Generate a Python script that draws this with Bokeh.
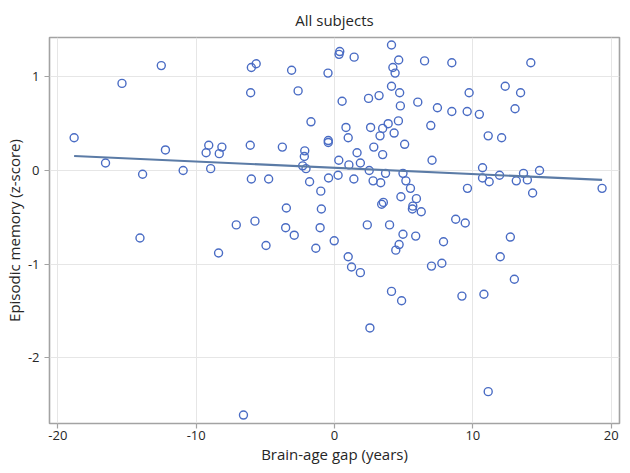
from bokeh.plotting import figure
from bokeh.models import Range1d, FixedTicker, ColumnDataSource
from bokeh.embed import file_html
from bokeh.resources import INLINE

# Data
brain_age_gap = [
    -18.82, -16.55, -15.36, -14.06, -13.87, -12.52, -12.22, -10.94, -9.09, -9.28,
    -8.95, -8.38, -8.33, -8.14, -7.10, -6.58, -6.09, -6.06, -6.01, -6.01,
    -5.75, -5.66, -4.95, -4.76, -3.77, -3.53, -3.48, -3.10, -2.91, -2.63,
    -2.30, -2.18, -2.15, -2.06, -1.80, -1.70, -1.35, -1.04, -0.99, -0.95,
    -0.47, -0.45, -0.45, -0.43, -0.02, 0.26, 0.31, 0.33, 0.38, 0.55,
    0.83, 0.99, 0.99, 1.04, 1.23, 1.40, 1.42, 1.63, 1.87, 1.87,
    2.37, 2.46, 2.51, 2.56, 2.61, 2.79, 2.84, 3.22, 3.29, 3.34,
    3.41, 3.53, 3.48, 3.48, 3.69, 3.88, 3.98, 4.12, 4.12, 4.12,
    4.22, 4.31, 4.38, 4.43, 4.62, 4.64, 4.67, 4.71, 4.76, 4.80,
    4.85, 4.95, 4.95, 5.07, 5.16, 5.49, 5.63, 5.66, 5.87, 5.92,
    6.02, 6.27, 6.51, 6.96, 7.01, 7.05, 7.44, 7.76, 7.88, 8.48,
    8.48, 8.76, 9.21, 9.45, 9.59, 9.61, 9.73, 10.47, 10.70, 10.70,
    10.80, 11.11, 11.11, 11.18, 11.93, 11.98, 12.08, 12.34, 12.71, 13.00,
    13.05, 13.14, 13.45, 13.66, 13.94, 14.19, 14.32, 14.82, 19.34,
]
episodic_memory = [
    0.35, 0.08, 0.93, -0.72, -0.04, 1.12, 0.22, 0.00, 0.27, 0.19,
    0.02, -0.88, 0.18, 0.25, -0.58, -2.61, 0.27, 0.83, 1.10, -0.09,
    -0.54, 1.14, -0.80, -0.09, 0.25, -0.61, -0.40, 1.07, -0.69, 0.85,
    0.05, 0.15, 0.21, 0.02, -0.12, 0.52, -0.83, -0.61, -0.22, -0.41,
    1.04, 0.32, 0.30, -0.08, -0.75, -0.05, 0.11, 1.24, 1.27, 0.74,
    0.46, 0.35, -0.92, 0.06, -1.03, -0.09, 1.21, 0.19, 0.08, -1.09,
    -0.58, 0.77, 0.00, -1.68, 0.46, -0.11, 0.25, 0.80, 0.37, -0.13,
    -0.36, -0.34, 0.45, 0.17, -0.03, 0.50, -0.58, 1.34, 0.90, -1.29,
    1.10, 0.40, 1.04, -0.85, 0.53, 1.18, -0.79, 0.83, 0.69, -0.28,
    -1.39, -0.03, -0.68, 0.28, -0.11, -0.19, -0.41, -0.38, -0.70, -0.30,
    0.73, -0.44, 1.17, 0.48, -1.02, 0.11, 0.67, -0.99, -0.76, 1.15,
    0.63, -0.52, -1.34, -0.56, 0.63, -0.19, 0.83, 0.60, 0.03, -0.08,
    -1.32, 0.37, -2.36, -0.12, -0.05, -0.92, 0.35, 0.90, -0.71, -1.16,
    0.66, -0.11, 0.83, -0.03, -0.10, 1.15, -0.24, 0.00, -0.19,
]
fit_x = [-18.82, 19.34]
fit_y = [0.155, -0.10]
x_ticks = [-20, -10, 0, 10, 20]
x_tick_labels = ["-20", "-10", "0", "10", "20"]
y_ticks = [-2, -1, 0, 1]
y_tick_labels = ["-2", "-1", "0", "1"]

FONT = "Open Sans"
TEXT = "#262626"
FRAME = "#a3a3a3"

p = figure(
    frame_width=570, frame_height=386,
    output_backend="svg", toolbar_location=None,
    x_range=Range1d(-20.6, 20.6), y_range=Range1d(-2.70, 1.42),
    title="All subjects",
    min_border_left=0, min_border_right=2, min_border_top=0, min_border_bottom=0,
)

p.title.align = "center"
p.title.text_font = FONT
p.title.text_font_size = "15px"
p.title.text_font_style = "normal"
p.title.text_color = TEXT
p.title.standoff = 15

src = ColumnDataSource(dict(x=brain_age_gap, y=episodic_memory))
p.scatter("x", "y", source=src, marker="circle", size=8,
          fill_color=None, line_color="#4a6cc4", line_width=1.4)
p.line(fit_x, fit_y, line_color="#5b7ba6", line_width=2.2)

p.xaxis.ticker = FixedTicker(ticks=x_ticks)
p.yaxis.ticker = FixedTicker(ticks=y_ticks)
p.xaxis.major_label_overrides = dict(zip(x_ticks, x_tick_labels))
p.yaxis.major_label_overrides = dict(zip(y_ticks, y_tick_labels))
p.xaxis.axis_label = "Brain-age gap (years)"
p.yaxis.axis_label = "Episodic memory (z-score)"

for ax in (p.xaxis[0], p.yaxis[0]):
    ax.axis_label_text_font = FONT
    ax.axis_label_text_font_size = "15px"
    ax.axis_label_text_font_style = "normal"
    ax.axis_label_text_color = TEXT
    ax.major_label_text_font = FONT
    ax.major_label_text_font_size = "13px"
    ax.major_label_text_color = TEXT
    ax.axis_line_color = None
    ax.major_tick_line_color = FRAME
    ax.major_tick_line_width = 1.2
    ax.major_tick_out = 5
    ax.major_tick_in = 0
    ax.minor_tick_line_color = None

p.xaxis.major_label_standoff = 2
p.xaxis.axis_label_standoff = 1
p.yaxis.major_label_standoff = 5
p.yaxis.axis_label_standoff = 1

p.xgrid.grid_line_color = "#e6e6e6"
p.ygrid.grid_line_color = "#e6e6e6"
p.xgrid.grid_line_width = 1
p.ygrid.grid_line_width = 1

p.outline_line_color = FRAME
p.outline_line_width = 1.6
p.background_fill_color = "white"
p.border_fill_color = "white"

open("out.html", "w").write(file_html(p, INLINE))
